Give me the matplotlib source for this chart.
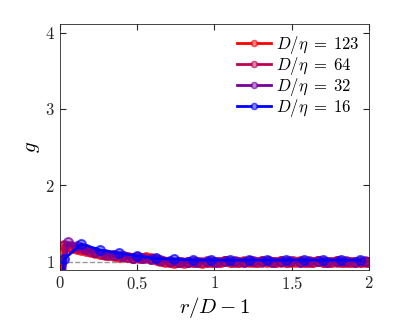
import matplotlib
matplotlib.use('Agg')
import matplotlib.pyplot as plt

plt.rcParams['mathtext.fontset'] = 'cm'
plt.rcParams['font.family'] = 'serif'
plt.rcParams['font.serif'] = ['cmr10', 'DejaVu Serif']
plt.rcParams['axes.formatter.use_mathtext'] = True

# D/eta = 123
x123 = [0.005, 0.02, 0.05, 0.08, 0.11, 0.14, 0.17, 0.20, 0.23, 0.26, 0.29, 0.32, 0.35,
        0.38, 0.41, 0.44, 0.47, 0.50, 0.53, 0.56, 0.59, 0.62, 0.65, 0.68, 0.71, 0.74,
        0.77, 0.80, 0.83, 0.86, 0.89, 0.92, 0.95, 0.98, 1.01, 1.04, 1.07, 1.10, 1.13,
        1.16, 1.19, 1.22, 1.25, 1.28, 1.31, 1.34, 1.37, 1.40, 1.43, 1.46, 1.49, 1.52,
        1.55, 1.58, 1.61, 1.64, 1.67, 1.70, 1.73, 1.76, 1.79, 1.82, 1.85, 1.88, 1.91,
        1.94, 1.97, 2.00]
g123 = [0.3, 1.21, 1.19, 1.18, 1.17, 1.15, 1.14, 1.12, 1.11, 1.10, 1.09, 1.08, 1.07,
        1.06, 1.07, 1.06, 1.05, 1.06, 1.05, 1.06, 1.04, 1.03, 1.01, 1.00, 0.99, 0.98,
        0.99, 0.98, 0.99, 1.00, 0.99, 0.98, 1.00, 0.99, 1.00, 0.99, 1.01, 1.00, 0.99,
        1.00, 1.01, 1.00, 0.99, 1.00, 1.01, 1.00, 0.99, 1.00, 1.01, 1.00, 0.99, 1.00,
        1.01, 1.00, 0.99, 1.00, 1.01, 1.00, 0.99, 1.00, 1.01, 1.00, 0.99, 1.00, 1.00,
        0.99, 1.00, 0.99]

# D/eta = 64
x64 = [0.01, 0.03, 0.07, 0.11, 0.15, 0.19, 0.23, 0.27, 0.31, 0.35, 0.39, 0.43, 0.47,
       0.51, 0.55, 0.59, 0.63, 0.67, 0.71, 0.75, 0.79, 0.83, 0.87, 0.91, 0.95, 0.99,
       1.03, 1.07, 1.11, 1.15, 1.19, 1.23, 1.27, 1.31, 1.35, 1.39, 1.43, 1.47, 1.51,
       1.55, 1.59, 1.63, 1.67, 1.71, 1.75, 1.79, 1.83, 1.87, 1.91, 1.95, 1.99]
g64 = [0.4, 1.22, 1.20, 1.18, 1.16, 1.14, 1.12, 1.10, 1.09, 1.08, 1.07, 1.06, 1.05,
       1.05, 1.04, 1.03, 1.02, 1.01, 1.00, 1.00, 0.99, 1.00, 1.00, 0.99, 1.00, 1.00,
       1.00, 1.01, 1.00, 1.00, 1.00, 1.01, 1.00, 1.00, 1.01, 1.00, 1.00, 1.00, 1.01,
       1.00, 1.00, 1.00, 1.01, 1.00, 1.00, 1.00, 1.00, 1.00, 1.00, 1.00, 1.00]

# D/eta = 32
x32 = [0.015, 0.05, 0.11, 0.17, 0.23, 0.29, 0.35, 0.41, 0.47, 0.53, 0.59, 0.65, 0.71,
       0.77, 0.83, 0.89, 0.95, 1.01, 1.07, 1.13, 1.19, 1.25, 1.31, 1.37, 1.43, 1.49,
       1.55, 1.61, 1.67, 1.73, 1.79, 1.85, 1.91, 1.97]
g32 = [0.5, 1.25, 1.20, 1.16, 1.13, 1.10, 1.08, 1.07, 1.05, 1.04, 1.03, 1.02, 1.01,
       1.00, 1.00, 1.00, 1.01, 1.00, 1.01, 1.01, 1.00, 1.01, 1.01, 1.00, 1.01, 1.01,
       1.00, 1.01, 1.01, 1.00, 1.01, 1.01, 1.00, 1.01]

# D/eta = 16
x16 = [0.013, 0.026, 0.14, 0.26, 0.38, 0.50, 0.62, 0.74, 0.86, 0.98, 1.10, 1.22, 1.34,
       1.46, 1.58, 1.70, 1.82, 1.94]
g16 = [0.5, 1.03, 1.23, 1.15, 1.11, 1.075, 1.04, 1.03, 1.02, 1.02, 1.02, 1.02, 1.02,
       1.02, 1.02, 1.02, 1.02, 1.02]

series = [(x123, g123, r'$D/\eta\;=\;123$', (1.0, 0.0, 0.0)),
          (x64, g64, r'$D/\eta\;=\;64$', (0.74, 0.0, 0.32)),
          (x32, g32, r'$D/\eta\;=\;32$', (0.45, 0.0, 0.62)),
          (x16, g16, r'$D/\eta\;=\;16$', (0.0, 0.0, 1.0))]

fig = plt.figure(figsize=(4.07, 3.26), dpi=100)
ax = fig.add_axes([0.147, 0.172, 0.76, 0.754])

ax.plot([0, 2], [1, 1], '--', color=(0.6, 0.6, 0.6), lw=1, zorder=1)
for x, g, lab, c in series:
    ax.plot(x, g, '-o', color=c, lw=2, ms=6.5, mfc=c + (0.45,), mec=c + (0.7,),
            mew=1.4, label=lab)

ax.set_xlim(0, 2)
ax.set_ylim(0.89, 4.11)
ax.set_xticks([0, 0.5, 1, 1.5, 2])
ax.set_xticklabels(['$0$', '$0.5$', '$1$', '$1.5$', '$2$'])
ax.set_yticks([1, 2, 3, 4])
ax.set_yticklabels(['$1$', '$2$', '$3$', '$4$'])
ax.tick_params(direction='in', top=True, right=True, labelsize=12, colors=(0.15, 0.15, 0.15),
               length=4)
for s in ax.spines.values():
    s.set_color((0.15, 0.15, 0.15))
    s.set_linewidth(0.6)
ax.set_xlabel('$r/D-1$', fontsize=15, labelpad=2)
ax.set_ylabel('$g$', fontsize=15, labelpad=2)

leg = ax.legend(loc='upper right', frameon=False, fontsize=12, handlelength=2.0,
                borderaxespad=0.2, labelspacing=-0.06, handletextpad=0.3)
for h in leg.legend_handles:
    h.set_markersize(4)
    h.set_markerfacecolor((1, 1, 1, 0.5))

fig.savefig('out.png', dpi=100)
